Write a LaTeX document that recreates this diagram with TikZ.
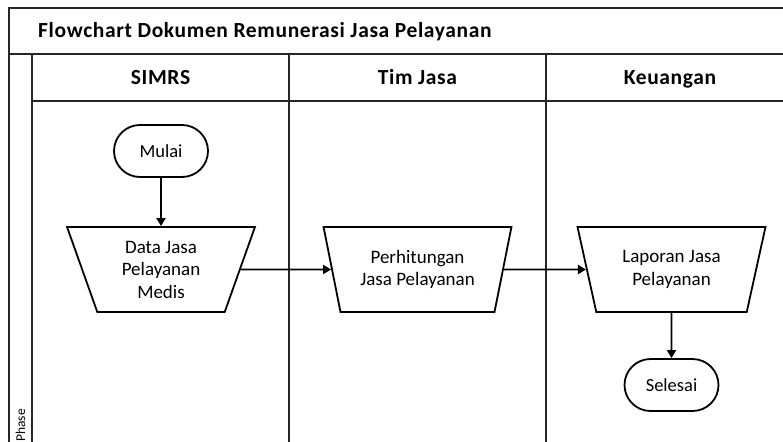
\documentclass[tikz,border=0pt]{standalone}
\usepackage{fontspec}
\setmainfont{Carlito}
\newfontfamily\titlefont[LetterSpace=3]{Carlito}
\usetikzlibrary{shapes.geometric,shapes.misc,arrows.meta}

\tikzset{
  grid/.style={line width=1.3pt, draw=black!85},
  headtext/.style={font=\titlefont\fontsize{21.5}{24}\selectfont\bfseries, inner sep=0pt},
  lanehead/.style={headtext, anchor=base},
  terminal/.style={draw, line width=1.8pt, rounded rectangle, minimum width=94pt,
    minimum height=52pt, inner sep=0pt, font=\fontsize{18.5}{22}\selectfont},
  manualop/.style={draw, line width=1.8pt, trapezium, shape border rotate=180,
    trapezium angle=72, trapezium stretches=true, minimum width=188pt,
    minimum height=85pt, inner sep=0pt, align=center,
    font=\fontsize{19}{22.5}\selectfont},
  flow/.style={line width=1.8pt, -{Triangle[length=8pt,width=9pt]}}
}

\begin{document}
\begin{tikzpicture}[x=1pt,y=-1pt]
  \useasboundingbox (0,0) rectangle (783,441);
  \begin{scope}
    \clip (0,0) rectangle (783,441);
    % pool frame and lane grid
    \draw[grid] (9,445) -- (9,8) -- (800,8);
    \draw[grid] (9,54) -- (800,54);
    \draw[grid] (32,54) -- (32,445);
    \draw[grid] (32,101) -- (800,101);
    \draw[grid] (289,54) -- (289,445);
    \draw[grid] (546,54) -- (546,445);
  \end{scope}

  % titles
  \node[headtext, anchor=base west] (title) at (38,37.5)
    {Flowchart Dokumen Remunerasi Jasa Pelayanan};
  \node[lanehead] (h1) at (160.5,84.5) {SIMRS};
  \node[lanehead] (h2) at (417.5,84.5) {Tim Jasa};
  \node[lanehead] (h3) at (670,84.5) {Keuangan};
  \node[rotate=90, anchor=base west, inner sep=0pt, font=\fontsize{13.5}{16}\selectfont]
    (phase) at (25,442) {Phase};

  % flow elements
  \node[terminal] (mulai) at (161,151) {Mulai};
  \node[manualop] (data) at (161,269.5) {Data Jasa\\Pelayanan\\Medis};
  \node[manualop] (hitung) at (417.5,269.5) {Perhitungan\\Jasa Pelayanan};
  \node[manualop] (lapor) at (671.5,269.5) {Laporan Jasa\\Pelayanan};
  \node[terminal] (selesai) at (671.5,385) {Selesai};

  % connectors
  \draw[flow] (mulai) -- (data);
  \draw[flow] (data) -- (hitung);
  \draw[flow] (hitung) -- (lapor);
  \draw[flow] (lapor) -- (selesai);
\end{tikzpicture}
\end{document}
